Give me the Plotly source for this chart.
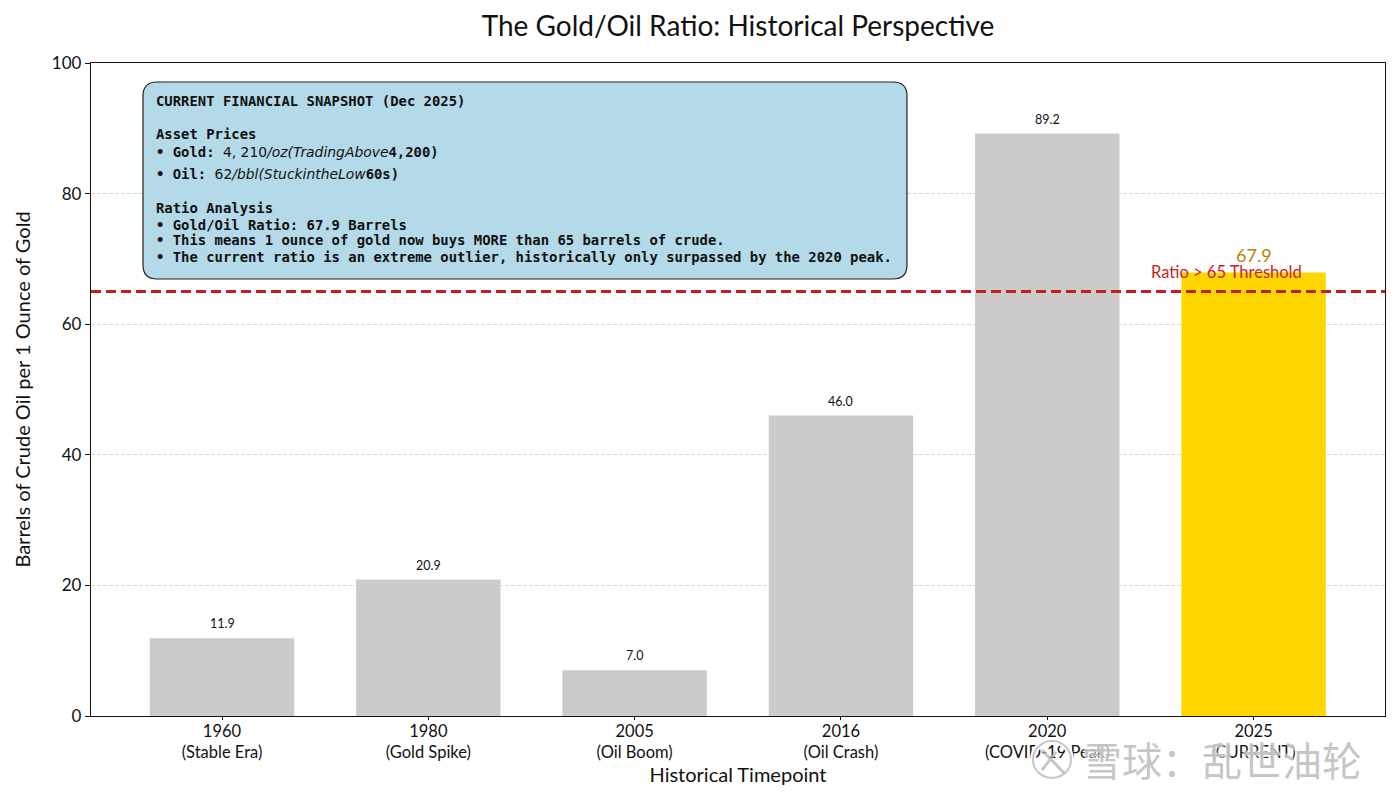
import plotly.graph_objects as go

years = ["1960", "1980", "2005", "2016", "2020", "2025"]
eras = ["(Stable Era)", "(Gold Spike)", "(Oil Boom)", "(Oil Crash)", "(COVID-19 Peak)", "(CURRENT)"]
ratios = [11.9, 20.9, 7.0, 46.0, 89.2, 67.9]
threshold = 65

MATH = "<span style='font-family:DejaVu Sans;font-weight:normal'>{}</span>"
MATH_I = "<span style='font-family:DejaVu Sans;font-weight:normal;font-style:italic'>{}</span>"
snapshot_lines = [
    "<b>CURRENT FINANCIAL SNAPSHOT (Dec 2025)</b>",
    "<b>Asset Prices</b>",
    "<b>• Gold: </b>" + MATH.format("4, 210") + MATH_I.format("/oz(TradingAbove") + "<b>4,200)</b>",
    "<b>• Oil: </b>" + MATH.format("62") + MATH_I.format("/bbl(StuckintheLow") + "<b>60s)</b>",
    "<b>Ratio Analysis</b>",
    "<b>• Gold/Oil Ratio: 67.9 Barrels</b>",
    "<b>• This means 1 ounce of gold now buys MORE than 65 barrels of crude.</b>",
    "<b>• The current ratio is an extreme outlier, historically only surpassed by the 2020 peak.</b>",
]
snapshot_y = [101, 134, 152, 174, 208, 225, 240, 257]

W, H = 1400, 800
L, R, T, B = 91, 1385, 63, 716
FONT = "Lato, 'Open Sans', sans-serif"
MARK_GREY = "rgba(180,180,180,0.75)"


def px(x):
    return (x - L) / (R - L)


def py(y):
    return (B - y) / (B - T)


def rounded_box(x0, y0, x1, y1, r):
    return (
        f"M {px(x0 + r)} {py(y0)} L {px(x1 - r)} {py(y0)} Q {px(x1)} {py(y0)} {px(x1)} {py(y0 + r)} "
        f"L {px(x1)} {py(y1 - r)} Q {px(x1)} {py(y1)} {px(x1 - r)} {py(y1)} "
        f"L {px(x0 + r)} {py(y1)} Q {px(x0)} {py(y1)} {px(x0)} {py(y1 - r)} "
        f"L {px(x0)} {py(y0 + r)} Q {px(x0)} {py(y0)} {px(x0 + r)} {py(y0)} Z"
    )


labels = [f"{y}<br>{e}" for y, e in zip(years, eras)]
colors = ["#cbcbcb"] * 5 + ["#ffd700"]

fig = go.Figure()
fig.add_trace(go.Bar(x=list(range(len(labels))), y=ratios, width=0.7, marker_color=colors, marker_line_width=0, showlegend=False))

# threshold line
fig.add_hline(y=threshold, line=dict(color="#c41e1e", width=3, dash="10px,5px"), layer="above")

# value labels
for i, v in enumerate(ratios):
    last = i == len(ratios) - 1
    fig.add_annotation(
        x=i, y=v, text=f"{v:.1f}", showarrow=False, yanchor="bottom", yshift=5,
        font=dict(family=FONT, size=18 if last else 12.5, color="#b8860b" if last else "#111111"),
    )

fig.add_annotation(
    x=5, y=threshold, text="Ratio > 65 Threshold", showarrow=False, xanchor="right", xshift=50, yanchor="bottom", yshift=8,
    font=dict(family=FONT, size=16.5, color="#cc2222"),
)

# snapshot box
fig.add_shape(
    type="path", xref="paper", yref="paper", path=rounded_box(143, 82, 907, 279, 14),
    fillcolor="#b4d9e8", line=dict(color="#222222", width=1.2), layer="above",
)
for line, y in zip(snapshot_lines, snapshot_y):
    fig.add_annotation(
        xref="paper", yref="paper", x=px(154), y=py(y), text=line, showarrow=False, xanchor="left", yanchor="middle",
        font=dict(family="'DejaVu Sans Mono', monospace", size=13.9, color="#111111"),
    )

# watermark
fig.add_shape(
    type="circle", xref="paper", yref="paper", x0=px(1033), x1=px(1071), y0=py(778), y1=py(741),
    line=dict(color="white", width=6), fillcolor="rgba(0,0,0,0)", layer="above",
)
fig.add_shape(
    type="circle", xref="paper", yref="paper", x0=px(1033), x1=px(1071), y0=py(778), y1=py(741),
    line=dict(color=MARK_GREY, width=2), fillcolor="rgba(0,0,0,0)", layer="above",
)
fig.add_shape(
    type="path", xref="paper", yref="paper",
    path=f"M {px(1042)} {py(750)} L {px(1064)} {py(773)} M {px(1042)} {py(770)} L {px(1056)} {py(752)}",
    line=dict(color=MARK_GREY, width=3), layer="above",
)
fig.add_annotation(
    xref="paper", yref="paper", x=px(1080), y=py(759), text="雪球：乱世油轮", showarrow=False, xanchor="left", yanchor="middle",
    font=dict(family="'Noto Sans CJK SC'", size=40, color=MARK_GREY, shadow="1px 1px 2px white, -1px -1px 2px white"),
)

fig.update_layout(
    width=W, height=H, autosize=False,
    margin=dict(l=L, r=W - R, t=T, b=H - B),
    paper_bgcolor="white", plot_bgcolor="white",
    font=dict(family=FONT, color="#111111"),
    title=dict(text="The Gold/Oil Ratio: Historical Perspective", x=738 / W, xanchor="center", y=1 - 26 / H, yanchor="middle",
               font=dict(family=FONT, size=28, color="#111111")),
)
fig.update_xaxes(
    range=[-0.635, 5.637], tickmode="array", tickvals=list(range(len(labels))), ticktext=labels,
    ticks="outside", ticklen=3, tickcolor="#111111", tickfont=dict(size=16.5), ticklabelstandoff=-3,
    showline=True, linecolor="#111111", linewidth=1.3, mirror=True, showgrid=False, zeroline=False,
    title=dict(text="Historical Timepoint", font=dict(size=20), standoff=1),
)
fig.update_yaxes(
    range=[0, 100], tickvals=[0, 20, 40, 60, 80, 100], ticks="outside", ticklen=5, tickcolor="#111111", tickfont=dict(size=17),
    showline=True, linecolor="#111111", linewidth=1.3, mirror=True, zeroline=False,
    showgrid=True, gridcolor="#d8d8d8", griddash="4px,2px", gridwidth=1,
    title=dict(text="Barrels of Crude Oil per 1 Ounce of Gold", font=dict(size=20), standoff=15),
)

fig.write_html("out.html", config=dict(displayModeBar=False), post_script="document.body.style.margin = '0';")
